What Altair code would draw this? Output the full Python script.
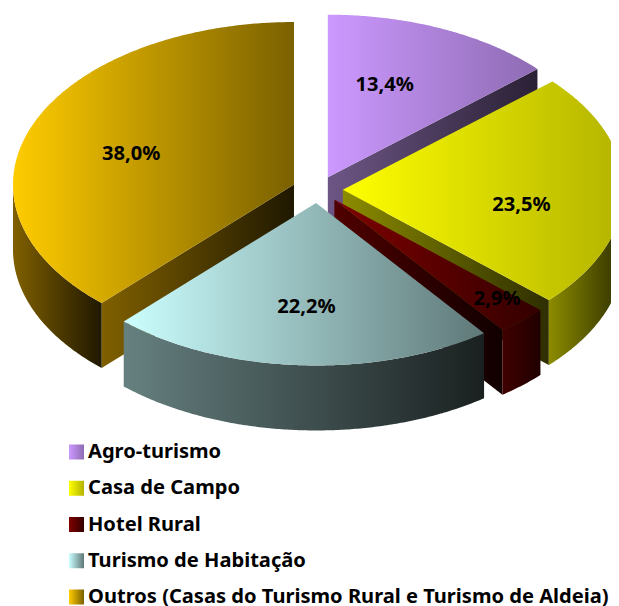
import math
import altair as alt
import pandas as pd

categories = ["Agro-turismo", "Casa de Campo", "Hotel Rural", "Turismo de Habitação",
              "Outros (Casas do Turismo Rural e Turismo de Aldeia)"]
shares = [13.4, 23.5, 2.9, 22.2, 38.0]
labels = ["13,4%", "23,5%", "2,9%", "22,2%", "38,0%"]

TOP = [("#cc99ff", "#8e6bb3"), ("#ffff00", "#b3b300"), ("#800000", "#330000"),
       ("#ccffff", "#5f7878"), ("#ffcc00", "#7a6000")]
OUTER = [("#665080", "#2a2035"), ("#8c8c00", "#2e2e00"), ("#400000", "#200000"),
         ("#668080", "#1a2020"), ("#806000", "#201800")]
CUT = [("#6d5685", "#2a2035"), ("#8c8c00", "#2e2e00"), ("#500000", "#100000"),
       ("#668080", "#1a2020"), ("#806000", "#1f1800")]
# (dx, dy) nudges of the percentage labels from their default anchors
NUDGE = [(-12, -3), (10, 14), (50, 27), (0, 7), (-6, 5)]
FONT = "Noto Sans"
FS = 20.1

CX, CY, A, B, DEPTH = 317.5, 189.5, 281.0, 162.5, 65.0
EXPLODE_X, EXPLODE_Y = 0.09, 0.083
W, H = 603, 602
xs = alt.Scale(domain=[8, 8 + W], range=[0, W])
ys = alt.Scale(domain=[8, 8 + H], range=[0, H])


def grad(pair):
    return alt.Gradient(gradient="linear", x1=0, x2=1, y1=0, y2=0,
                        stops=[alt.GradientStop(color=pair[0], offset=0),
                               alt.GradientStop(color=pair[1], offset=1)])


def poly(points, pair):
    df = pd.DataFrame(points, columns=["x", "y"])
    df["o"] = range(len(df))
    return alt.Chart(df).mark_line(fill=grad(pair), stroke=None, strokeWidth=0, clip=True, interpolate="linear-closed").encode(
        x=alt.X("x:Q", scale=xs, axis=None),
        y=alt.Y("y:Q", scale=ys, axis=None),
        order="o:Q",
    )


def pt(ax, ay, deg, r=1.0):
    t = math.radians(deg)
    return (ax + r * A * math.sin(t), ay - r * B * math.cos(t))


def apex(deg):
    t = math.radians(deg)
    return (CX + EXPLODE_X * A * math.sin(t), CY - EXPLODE_Y * B * math.cos(t))


def arc(ax, ay, d0, d1):
    n = max(2, int(abs(d1 - d0) * 2))
    return [pt(ax, ay, d0 + (d1 - d0) * i / n) for i in range(n + 1)]


layers = []
starts = []
acc = 0.0
total = sum(shares)
for s in shares:
    starts.append((acc, acc + s / total * 360))
    acc += s / total * 360

for idx in [0, 4, 1, 2, 3]:
    d0, d1 = starts[idx]
    mid = (d0 + d1) / 2
    ax, ay = apex(mid)
    # cut face: trailing edge for right-hand slices, leading edge for the last
    edge = d0 if idx == 4 else d1
    if idx != 3:
        e = pt(ax, ay, edge)
        layers.append(poly([(ax, ay), e, (e[0], e[1] + DEPTH), (ax, ay + DEPTH)], CUT[idx]))
    # outer wall: only the front half of the rim faces the viewer
    v0, v1 = max(d0, 90.0), min(d1, 270.0)
    if v1 > v0:
        a = arc(ax, ay, v0, v1)
        layers.append(poly(a + [(x, y + DEPTH) for x, y in reversed(a)], OUTER[idx]))
    # top face
    layers.append(poly([(ax, ay)] + arc(ax, ay, d0, d1), TOP[idx]))

for i in range(5):
    d0, d1 = starts[i]
    mid = (d0 + d1) / 2
    ax, ay = apex(mid)
    x, y = pt(ax, ay, mid, 0.6)
    t = pd.DataFrame({"x": [x], "y": [y], "t": [labels[i]]})
    layers.append(alt.Chart(t).mark_text(font=FONT, fontWeight="bold", fontSize=FS, color="black",
                                         dx=NUDGE[i][0], dy=NUDGE[i][1]).encode(
        x=alt.X("x:Q", scale=xs, axis=None), y=alt.Y("y:Q", scale=ys, axis=None), text="t:N"))

rows = alt.Scale(domain=[0, 4], range=[452 - 8, 597 - 8])
for i, c in enumerate(categories):
    d = pd.DataFrame({"r": [i], "t": [c]})
    layers.append(alt.Chart(d).mark_square(size=225, fill=grad(TOP[i]), stroke=None, opacity=1).encode(
        x=alt.value(76.5 - 8), y=alt.Y("r:Q", scale=rows, axis=None)))
    layers.append(alt.Chart(d).mark_text(font=FONT, fontWeight="bold", fontSize=FS, align="left", color="black").encode(
        x=alt.value(88 - 8), y=alt.Y("r:Q", scale=rows, axis=None), text="t:N"))

chart = alt.layer(*layers).resolve_scale(y="independent").properties(
    width=W, height=H, padding=0, autosize=alt.AutoSizeParams(type="none")
).configure_view(stroke=None)

chart.save("out.html", embed_options={"renderer": "svg", "actions": False})
